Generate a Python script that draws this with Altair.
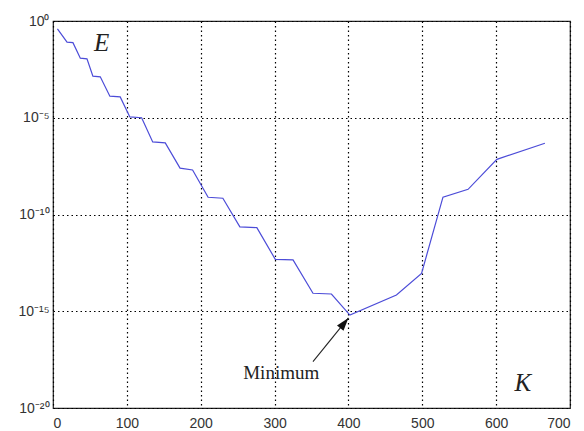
import altair as alt
import pandas as pd

# Error E versus number of terms K (log scale)
k_vals = [6, 19, 27, 37, 46, 54, 64, 77, 91, 104, 120, 135, 152, 172, 189,
          210, 230, 253, 276, 301, 325, 352, 377, 402, 465, 499, 528, 562, 601, 666]
e_vals = [3.9e-1, 8.1e-2, 7.6e-2, 1.2e-2, 1.1e-2, 1.4e-3, 1.3e-3, 1.3e-4, 1.2e-4,
          1.1e-5, 1.0e-5, 5.6e-7, 5.0e-7, 2.5e-8, 2.0e-8, 7.8e-10, 6.9e-10,
          2.3e-11, 2.1e-11, 4.8e-13, 4.5e-13, 8.5e-15, 7.8e-15, 6.3e-16,
          6.9e-15, 9.1e-14, 7.9e-10, 2.0e-9, 7.1e-8, 4.8e-7]

x_ticks = [0, 100, 200, 300, 400, 500, 600, 700]
y_ticks = [1e-20, 1e-15, 1e-10, 1e-5, 1.0]

# Annotation: label text, and arrow from label to the minimum
arrow_tail = (352, 2.5e-18)
arrow_tip = (400, 4.5e-16)
label_k = [66, 636]
label_e = [7.2e-2, 2.0e-19]
label_text = ["E", "K"]
min_label = ("Minimum", 309, 6.3e-19)

curve = pd.DataFrame({"K": k_vals, "E": e_vals})

x_scale = alt.Scale(domain=[0, 700], nice=False)
y_scale = alt.Scale(type="log", domain=[1e-20, 1.0], nice=False)

y_label_expr = (
    "datum.value > 0.1 ? '10⁰' : datum.value > 1e-7 ? '10⁻⁵' : "
    "datum.value > 1e-12 ? '10⁻¹⁰' : datum.value > 1e-17 ? '10⁻¹⁵' : '10⁻²⁰'"
)

line = alt.Chart(curve).mark_line(color="#4c4cd8", strokeWidth=1.2).encode(
    x=alt.X("K:Q", scale=x_scale,
            axis=alt.Axis(values=x_ticks, title=None, labelPadding=8)),
    y=alt.Y("E:Q", scale=y_scale,
            axis=alt.Axis(values=y_ticks, title=None, labelPadding=4,
                          labelExpr=y_label_expr)),
)

arrow_df = pd.DataFrame({"x": [arrow_tail[0]], "y": [arrow_tail[1]],
                         "x2": [arrow_tip[0]], "y2": [arrow_tip[1]]})
shaft = alt.Chart(arrow_df).mark_rule(color="#222", strokeWidth=1.1).encode(
    x=alt.X("x:Q", scale=x_scale), y=alt.Y("y:Q", scale=y_scale),
    x2="x2:Q", y2="y2:Q",
)
head = alt.Chart(arrow_df).mark_point(
    shape="M0,0 L0.32,1 L-0.32,1 Z", filled=True, color="#111",
    opacity=1, size=676, angle=39,
).encode(x=alt.X("x2:Q", scale=x_scale), y=alt.Y("y2:Q", scale=y_scale))

letters = alt.Chart(pd.DataFrame({"k": label_k, "e": label_e, "t": label_text})).mark_text(
    font="Liberation Serif", fontStyle="italic", fontSize=25, color="#222",
).encode(x=alt.X("k:Q", scale=x_scale), y=alt.Y("e:Q", scale=y_scale), text="t:N")

min_text = alt.Chart(pd.DataFrame({"t": [min_label[0]], "k": [min_label[1]],
                                   "e": [min_label[2]]})).mark_text(
    font="Liberation Serif", fontSize=19, color="#222",
).encode(x=alt.X("k:Q", scale=x_scale), y=alt.Y("e:Q", scale=y_scale), text="t:N")

chart = alt.layer(line, shaft, head, letters, min_text).properties(
    width=517, height=387,
    autosize=alt.AutoSizeParams(type="none"),
    padding={"left": 53, "top": 21, "right": 14, "bottom": 23},
).configure_view(
    stroke="#222", strokeWidth=1.2,
).configure_axis(
    grid=True, gridColor="#000", gridDash=[1.5, 3], gridWidth=1.2, gridOpacity=1,
    domain=False, ticks=False,
    labelFont="Liberation Sans", labelFontSize=14, labelColor="#333",
)

chart.save("out.html", embed_options={"renderer": "svg", "actions": False})
